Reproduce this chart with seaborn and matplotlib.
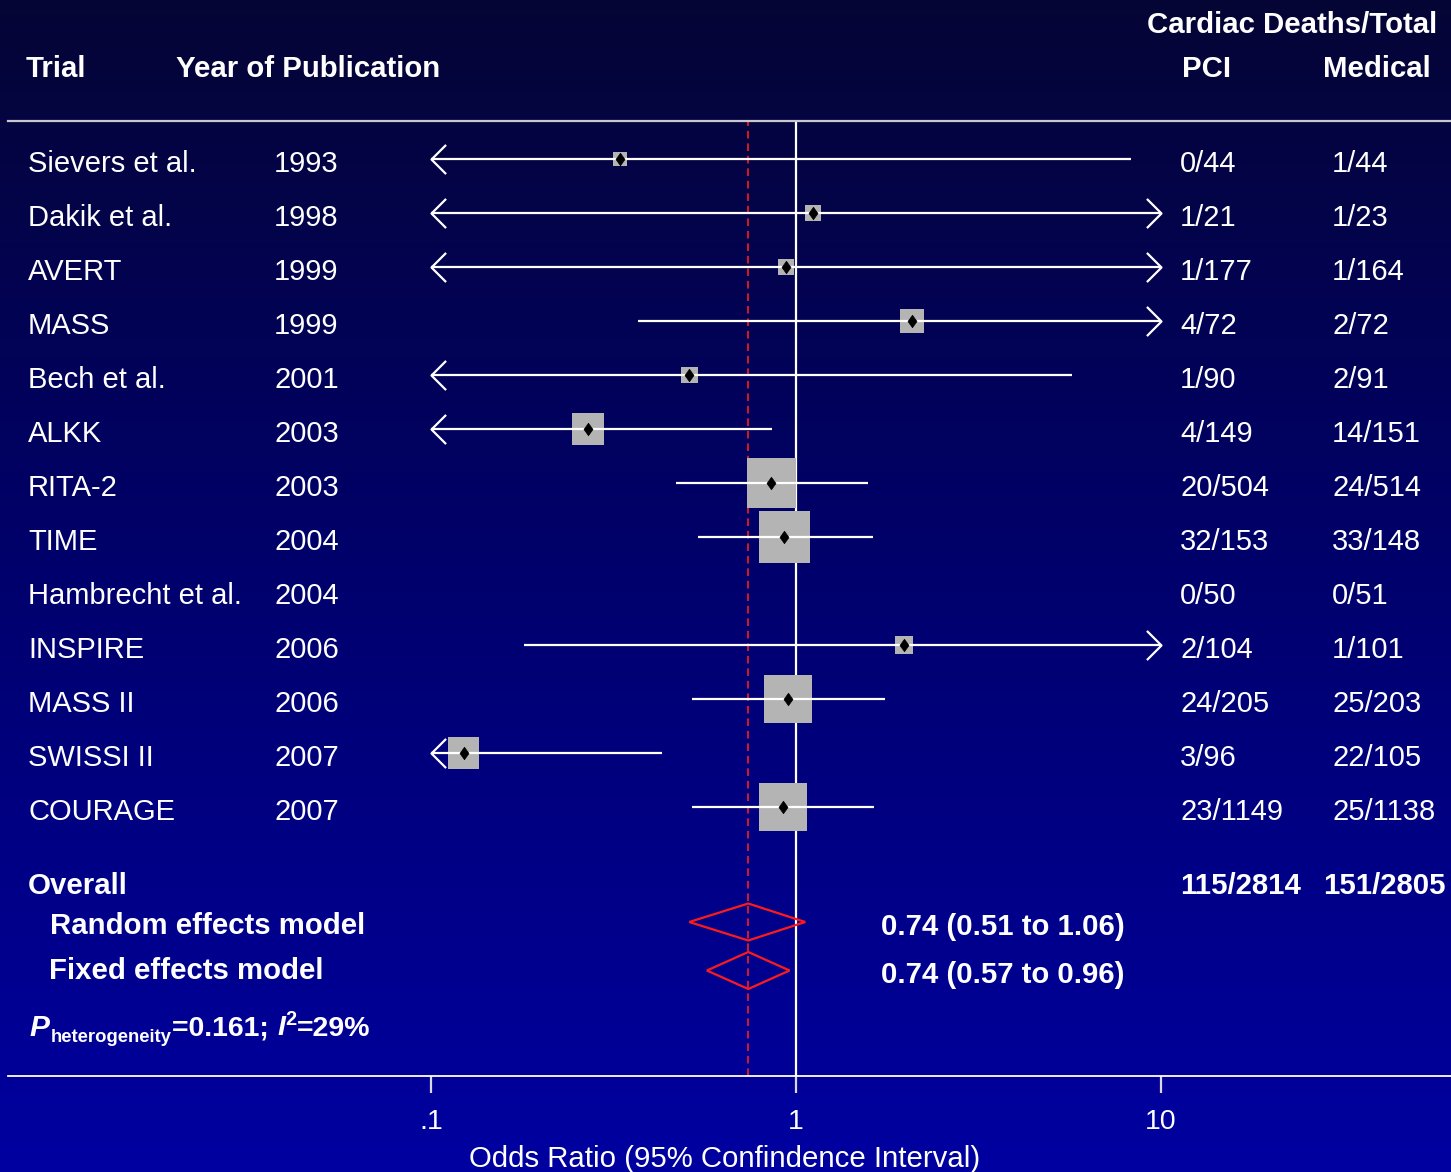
import numpy as np
import pandas as pd
import matplotlib
matplotlib.use("Agg")
import matplotlib.pyplot as plt
import matplotlib.transforms as mtransforms
from matplotlib.path import Path
from matplotlib.colors import LinearSegmentedColormap
import seaborn as sns

# ---- trial-level data -------------------------------------------------------
trials = ["Sievers et al.", "Dakik et al.", "AVERT", "MASS", "Bech et al.", "ALKK",
          "RITA-2", "TIME", "Hambrecht et al.", "INSPIRE", "MASS II", "SWISSI II",
          "COURAGE"]
years = [1993, 1998, 1999, 1999, 2001, 2003, 2003, 2004, 2004, 2006, 2006, 2007, 2007]
odds_ratio = [0.33, 1.11, 0.94, 2.08, 0.51, 0.27, 0.855, 0.93, np.nan, 1.98, 0.95, 0.123, 0.92]
ci_lower = [0.013, 0.065, 0.058, 0.37, 0.045, 0.08, 0.47, 0.54, np.nan, 0.18, 0.52, 0.035, 0.52]
ci_upper = [8.3, 18.5, 15.3, 11.8, 5.7, 0.86, 1.57, 1.63, np.nan, 22.0, 1.75, 0.43, 1.64]
weight = [1.4, 1.9, 1.9, 4.2, 2.1, 7.5, 17.7, 19.9, 0.0, 2.4, 16.9, 7.1, 16.9]
pci_events = ["0/44", "1/21", "1/177", "4/72", "1/90", "4/149", "20/504", "32/153",
              "0/50", "2/104", "24/205", "3/96", "23/1149"]
medical_events = ["1/44", "1/23", "1/164", "2/72", "2/91", "14/151", "24/514", "33/148",
                  "0/51", "1/101", "25/203", "22/105", "25/1138"]

# ---- pooled results ---------------------------------------------------------
overall_pci = "115/2814"
overall_medical = "151/2805"
model_names = ["Random effects model", "Fixed effects model"]
pooled_or = [0.74, 0.74]
pooled_lower = [0.51, 0.57]
pooled_upper = [1.06, 0.96]
p_heterogeneity = 0.161
i_squared = 29

# ---- axis ---------------------------------------------------------------------
axis_ticks = [0.1, 1, 10]
tick_labels = [".1", "1", "10"]
axis_title = "Odds Ratio (95% Confindence Interval)"

# ---- styling ------------------------------------------------------------------
sns.set_style("white")
plt.rcParams["font.family"] = ["Liberation Sans", "DejaVu Sans"]
plt.rcParams["mathtext.fontset"] = "custom"
plt.rcParams["mathtext.rm"] = "Liberation Sans"
plt.rcParams["mathtext.bf"] = "Liberation Sans:bold"
plt.rcParams["mathtext.it"] = "Liberation Sans:italic"
plt.rcParams["mathtext.bfit"] = "Liberation Sans:bold:italic"
plt.rcParams["lines.scale_dashes"] = False

W, H = 1451, 1172
DPI = 100
fig = plt.figure(figsize=(W / DPI, H / DPI), dpi=DPI)

# navy-to-blue vertical background gradient
bg = fig.add_axes([0, 0, 1, 1], zorder=0)
grad_cmap = LinearSegmentedColormap.from_list(
    "navy", [(0.0, (0.02, 0.02, 0.21)), (0.5, (0.0, 0.0, 0.43)), (1.0, (0.0, 0.0, 0.63))])
bg.imshow(np.linspace(0, 1, 256)[:, None], aspect="auto", cmap=grad_cmap,
          extent=[0, 1, 0, 1], origin="upper")
bg.set_axis_off()

# plotting panel between the two rules (pixel layout: x 8..1451, y 121..1076)
ax = fig.add_axes([8 / W, (H - 1076) / H, (W - 8) / W, (1076 - 121) / H], zorder=1)
ax.set_facecolor("none")
ax.set_xscale("log")

PX_PER_DECADE = 365.0
X_ONE = 796.0
ROW0, ROW_STEP = 159.0, 54.0


def row_of(px):
    return (px - ROW0) / ROW_STEP


def fx(px):
    return px / W


df = pd.DataFrame({
    "trial": trials, "year": years, "or": odds_ratio, "lo": ci_lower, "hi": ci_upper,
    "weight": weight, "pci": pci_events, "medical": medical_events,
})
df["row"] = np.arange(len(df), dtype=float)
est = df.dropna(subset=["or"])

XMIN, XMAX = axis_ticks[0], axis_ticks[-1]

# reference lines: no effect and pooled estimate
ax.axvline(1, color="white", lw=1.6, zorder=1)
ax.axvline(pooled_or[0], color="#ff1a1a", lw=1.2, ls=(0, (5.5, 3.5)), zorder=1)

# weight boxes
sns.scatterplot(data=est, x="or", y="row", size="weight", sizes=(0, 1408),
                size_norm=(0, 20), marker="s", color="#b4b4b4", edgecolor="none",
                legend=False, ax=ax, zorder=2)

# confidence intervals, clipped to the axis with open arrowheads
left_head = Path([(1, 1), (0, 0), (1, -1)], [Path.MOVETO, Path.LINETO, Path.LINETO])
right_head = Path([(-1, 1), (0, 0), (-1, -1)], [Path.MOVETO, Path.LINETO, Path.LINETO])
for _, r in est.iterrows():
    lo = max(r["lo"], XMIN)
    hi = min(r["hi"], XMAX)
    ax.hlines(r["row"], lo, hi, color="white", lw=1.6, zorder=3)
    if r["lo"] < XMIN:
        ax.plot([XMIN], [r["row"]], marker=left_head, ms=21, mfc="none", mec="white",
                mew=1.6, zorder=3)
    if r["hi"] > XMAX:
        ax.plot([XMAX], [r["row"]], marker=right_head, ms=21, mfc="none", mec="white",
                mew=1.6, zorder=3)

# point estimates
point_marker = Path([(0, 1), (0.72, 0), (0, -1), (-0.72, 0), (0, 1)],
                    [Path.MOVETO, Path.LINETO, Path.LINETO, Path.LINETO, Path.CLOSEPOLY])
sns.scatterplot(data=est, x="or", y="row", marker=point_marker, s=80, color="black",
                edgecolor="black", linewidth=0.5, legend=False, ax=ax, zorder=4)

# pooled diamonds
pooled_rows = [row_of(922), row_of(970.5)]
half_h = 18.5 / ROW_STEP
for m, c in enumerate(pooled_rows):
    ax.fill([pooled_lower[m], pooled_or[m], pooled_upper[m], pooled_or[m]],
            [c, c - half_h, c, c + half_h], facecolor="none", edgecolor="#ff1a1a",
            lw=1.6, zorder=3)

# axes limits in the same pixel mapping
ax.set_xlim(10 ** ((8 - X_ONE) / PX_PER_DECADE), 10 ** ((W - X_ONE) / PX_PER_DECADE))
ax.set_ylim(row_of(1076), row_of(121))

for side in ["left", "right"]:
    ax.spines[side].set_visible(False)
ax.spines["top"].set_color("#c8c8d0")
ax.spines["top"].set_linewidth(1.6)
ax.spines["bottom"].set_color("white")
ax.spines["bottom"].set_linewidth(1.3)
ax.set_yticks([])
ax.set_xticks(axis_ticks)
ax.set_xticklabels(tick_labels)
ax.minorticks_off()
ax.tick_params(axis="x", length=12.5, width=1.6, color="#d8d8e0", labelcolor="white",
               labelsize=20.5, pad=11, bottom=True, direction="out")
ax.set_xlabel(axis_title, color="white", fontsize=21.2)
ax.xaxis.set_label_coords(725 / W, -(1159 - 1076) / (1076 - 121),
                          transform=mtransforms.blended_transform_factory(
                              fig.transFigure, ax.transAxes))
ax.xaxis.label.set_va("center")
ax.set_ylabel("")

# ---- text columns -------------------------------------------------------------
tr = mtransforms.blended_transform_factory(fig.transFigure, ax.transData)
txt = dict(color="white", fontsize=21, va="center", transform=tr, clip_on=False)
bold = dict(txt, fontweight="bold", fontsize=21.2)
DY = 0.1
DYB = 0.05

for _, r in df.iterrows():
    y = r["row"] + DY
    ax.text(fx(28), y, r["trial"], **txt)
    ax.text(fx(274), y, str(r["year"]), **txt)
    ax.text(fx(1180), y, r["pci"], **txt)
    ax.text(fx(1332), y, r["medical"], **txt)

# headers
ax.text(fx(26), row_of(66) + DYB, "Trial", **bold)
ax.text(fx(176), row_of(66) + DYB, "Year of Publication", **bold)
ax.text(fx(1147), row_of(22) + DYB, "Cardiac Deaths/Total", **bold)
ax.text(fx(1182), row_of(66) + DYB, "PCI", **bold)
ax.text(fx(1323), row_of(66) + DYB, "Medical", **bold)

# overall section
ax.text(fx(28), row_of(883) + DYB, "Overall", **bold)
ax.text(fx(1180), row_of(883) + DYB, overall_pci, **bold)
ax.text(fx(1323), row_of(883) + DYB, overall_medical, **bold)
label_x = [50, 49]
text_rows = [row_of(923), row_of(968)]
est_rows = [row_of(924), row_of(972)]
for m in range(len(model_names)):
    ax.text(fx(label_x[m]), text_rows[m] + DYB, model_names[m], **bold)
    ax.text(fx(881), est_rows[m] + DYB,
            f"{pooled_or[m]:.2f} ({pooled_lower[m]:.2f} to {pooled_upper[m]:.2f})", **bold)

# heterogeneity statement, set piece by piece along one baseline
renderer = fig.canvas.get_renderer()
baseline = (H - 1036) / H
pieces = [
    (r"$\mathbfit{P}$", 21.5, 0),
    ("heterogeneity", 13.3, 6),
    ("=%.3f; " % p_heterogeneity, 20.5, 0),
    (r"$\mathbfit{I}^{\mathbf{2}}$", 20.5, 0),
    ("=%d%%" % i_squared, 20.5, 0),
]
x_cursor = fx(29)
for s, size, drop in pieces:
    t = fig.text(x_cursor, baseline - drop / H, s, fontsize=size, fontweight="bold",
                 color="white", va="baseline", ha="left", zorder=2)
    x_cursor = t.get_window_extent(renderer).x1 / W

fig.savefig("out.png", dpi=DPI)
